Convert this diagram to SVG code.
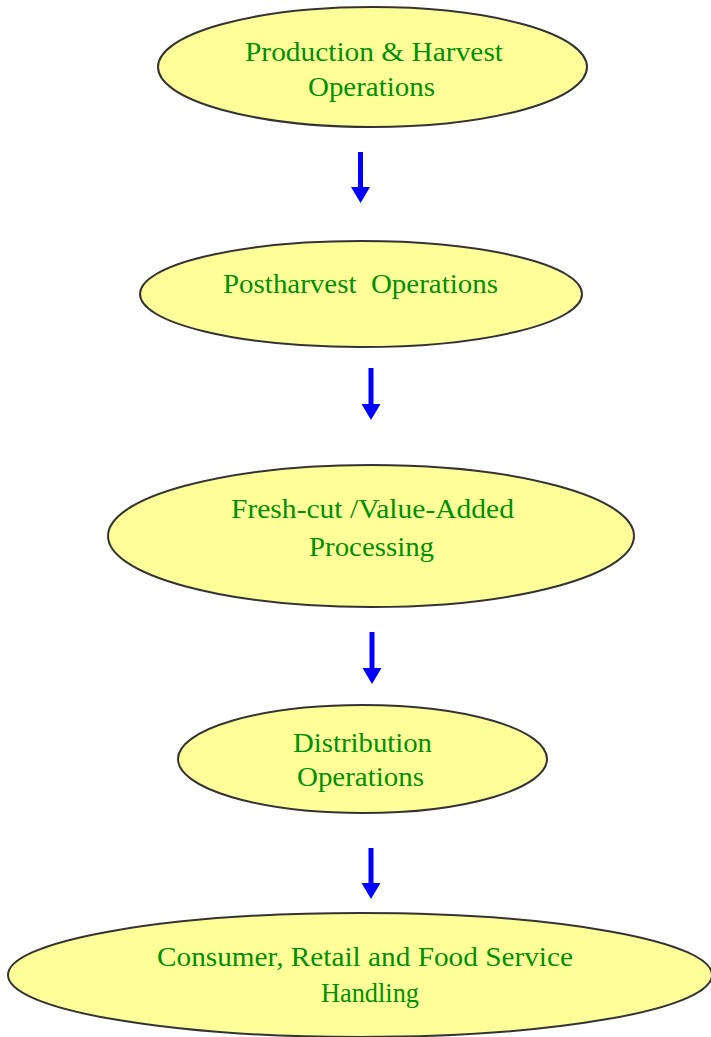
<svg xmlns="http://www.w3.org/2000/svg" width="711" height="1037" viewBox="0 0 711 1037">
<style>
.node ellipse{fill:#FFFF99;stroke:#333333;stroke-width:2}
.node text{font-family:"Liberation Serif",serif;font-size:28px;fill:#009000;text-anchor:middle}
.conn line{stroke:#0000FF;stroke-width:5}
</style>
<defs>
<marker id="ah" markerUnits="userSpaceOnUse" viewBox="0 -10 16 20" refX="0" refY="0" markerWidth="16" markerHeight="20" orient="auto">
<path d="M0,-9.5 L16,0 L0,9.5 z" fill="#0000FF"/>
</marker>
</defs>
<rect width="711" height="1037" fill="#FFFFFF"/>
<g id="n1" class="node">
<ellipse cx="372.5" cy="67" rx="214.5" ry="60"/>
<text x="374" y="61" textLength="258" lengthAdjust="spacingAndGlyphs">Production &amp; Harvest</text>
<text x="371.5" y="96" textLength="127" lengthAdjust="spacingAndGlyphs">Operations</text>
</g>
<g id="n2" class="node">
<ellipse cx="361" cy="294" rx="221" ry="53"/>
<text x="360.5" y="293" textLength="275" lengthAdjust="spacingAndGlyphs">Postharvest&#160; Operations</text>
</g>
<g id="n3" class="node">
<ellipse cx="371" cy="536" rx="263" ry="71"/>
<text x="372.5" y="518" textLength="283" lengthAdjust="spacingAndGlyphs">Fresh-cut /Value-Added</text>
<text x="371.5" y="556" textLength="125" lengthAdjust="spacingAndGlyphs">Processing</text>
</g>
<g id="n4" class="node">
<ellipse cx="362.5" cy="759" rx="184.5" ry="54"/>
<text x="362.5" y="752" textLength="139" lengthAdjust="spacingAndGlyphs">Distribution</text>
<text x="360.5" y="786" textLength="127" lengthAdjust="spacingAndGlyphs">Operations</text>
</g>
<g id="n5" class="node">
<ellipse cx="360" cy="975" rx="352" ry="62"/>
<text x="365" y="966" textLength="416" lengthAdjust="spacingAndGlyphs">Consumer, Retail and Food Service</text>
<text x="370" y="1002" textLength="98" lengthAdjust="spacingAndGlyphs">Handling</text>
</g>
<g id="connectors" class="conn">
<line x1="360.5" y1="152" x2="360.5" y2="187" marker-end="url(#ah)"/>
<line x1="371" y1="368" x2="371" y2="404" marker-end="url(#ah)"/>
<line x1="372" y1="632" x2="372" y2="668" marker-end="url(#ah)"/>
<line x1="371" y1="848" x2="371" y2="883" marker-end="url(#ah)"/>
</g>
</svg>
